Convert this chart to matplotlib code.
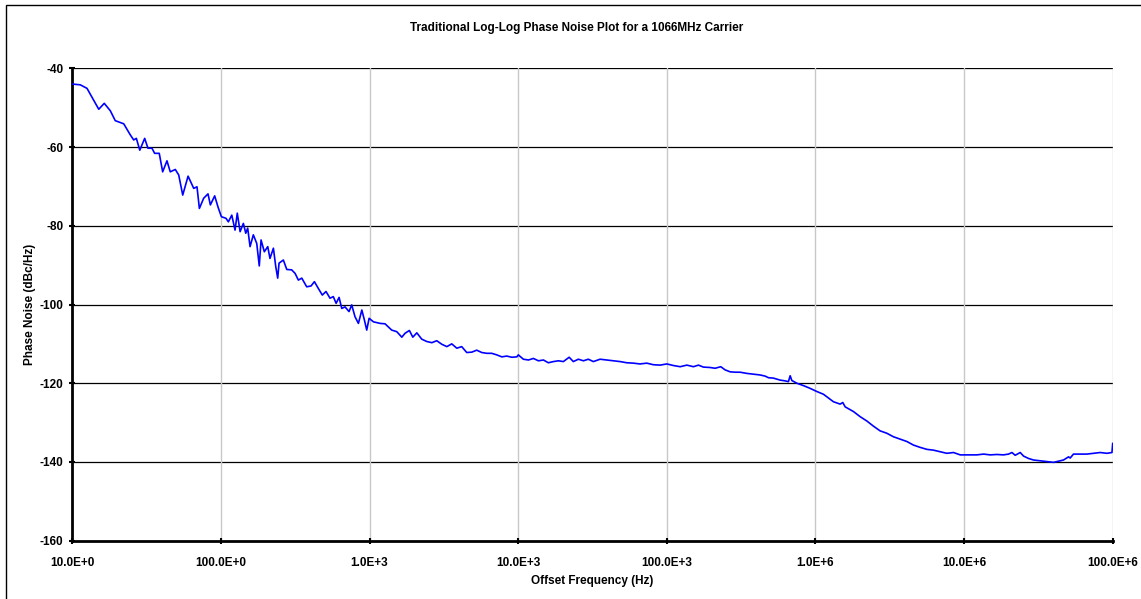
import matplotlib
matplotlib.use('Agg')
import matplotlib.pyplot as plt
from matplotlib.patches import Rectangle
import numpy as np

# offset frequency as log10(Hz), phase noise in dBc/Hz
offset_decade = [
    1.000, 1.054, 1.099, 1.144, 1.178, 1.215, 1.256, 1.289, 1.346, 1.390,
    1.413, 1.431, 1.454, 1.487, 1.509, 1.536, 1.554, 1.585, 1.608, 1.637,
    1.659, 1.693, 1.716, 1.743, 1.779, 1.817, 1.839, 1.855, 1.884, 1.913,
    1.929, 1.958, 1.980, 2.003, 2.034, 2.050, 2.073, 2.095, 2.110, 2.129,
    2.151, 2.167, 2.180, 2.196, 2.218, 2.241, 2.258, 2.270, 2.292, 2.315,
    2.330, 2.353, 2.369, 2.382, 2.391, 2.420, 2.443, 2.476, 2.499, 2.521,
    2.544, 2.577, 2.606, 2.629, 2.655, 2.682, 2.707, 2.734, 2.756, 2.775,
    2.795, 2.813, 2.835, 2.862, 2.880, 2.902, 2.925, 2.948, 2.965, 2.981,
    2.997, 3.026, 3.071, 3.104, 3.149, 3.183, 3.217, 3.239, 3.268, 3.291,
    3.318, 3.351, 3.385, 3.419, 3.452, 3.486, 3.520, 3.553, 3.587, 3.620,
    3.654, 3.688, 3.721, 3.755, 3.789, 3.822, 3.856, 3.890, 3.923, 3.957,
    3.991, 4.001, 4.035, 4.069, 4.102, 4.136, 4.170, 4.203, 4.237, 4.271,
    4.304, 4.343, 4.371, 4.405, 4.439, 4.472, 4.506, 4.551, 4.596, 4.641,
    4.686, 4.731, 4.775, 4.820, 4.865, 4.910, 4.955, 5.000, 5.044, 5.090,
    5.135, 5.179, 5.213, 5.246, 5.291, 5.325, 5.363, 5.392, 5.426, 5.460,
    5.493, 5.538, 5.583, 5.628, 5.662, 5.684, 5.717, 5.762, 5.796, 5.818,
    5.830, 5.841, 5.875, 5.919, 5.964, 6.009, 6.054, 6.121, 6.166, 6.184,
    6.200, 6.256, 6.301, 6.346, 6.390, 6.435, 6.480, 6.525, 6.570, 6.615,
    6.659, 6.705, 6.750, 6.794, 6.839, 6.884, 6.929, 6.974, 7.019, 7.086,
    7.131, 7.176, 7.221, 7.265, 7.299, 7.322, 7.344, 7.378, 7.400, 7.433,
    7.467, 7.512, 7.557, 7.602, 7.635, 7.669, 7.703, 7.714, 7.736, 7.781,
    7.826, 7.871, 7.916, 7.961, 7.995, 8.000,
]
phase_noise = [
    -44.0, -44.2, -45.1, -48.1, -50.4, -48.9, -50.8, -53.3, -54.1, -56.9,
    -58.2, -57.8, -60.8, -57.8, -60.3, -60.3, -61.6, -61.6, -66.3, -63.5,
    -66.3, -65.7, -67.1, -72.2, -67.4, -70.5, -70.1, -75.6, -73.0, -71.9,
    -74.7, -72.4, -75.2, -77.7, -78.1, -79.0, -77.3, -81.1, -76.8, -81.5,
    -79.4, -81.9, -80.6, -85.3, -82.3, -84.5, -90.2, -83.6, -86.6, -85.3,
    -88.3, -85.7, -90.4, -93.3, -89.5, -88.7, -91.1, -91.2, -92.1, -93.8,
    -93.3, -95.5, -95.3, -94.2, -95.9, -97.6, -96.7, -98.4, -98.0, -99.7,
    -98.2, -101.0, -100.6, -101.8, -100.1, -103.1, -104.8, -101.4, -103.9, -106.5,
    -103.5, -104.4, -104.8, -104.9, -106.5, -106.9, -108.3, -107.3, -106.6, -108.3,
    -107.2, -108.8, -109.4, -109.7, -109.2, -110.1, -110.7, -110.0, -111.1, -110.7,
    -112.2, -112.1, -111.6, -112.2, -112.4, -112.4, -112.8, -113.3, -113.1, -113.4,
    -113.3, -112.8, -113.9, -114.1, -113.7, -114.3, -114.1, -114.8, -114.5, -114.3,
    -114.5, -113.4, -114.5, -113.9, -114.3, -113.9, -114.5, -113.9, -114.1, -114.3,
    -114.5, -114.8, -114.9, -115.1, -114.9, -115.3, -115.4, -115.1, -115.5, -115.8,
    -115.4, -115.8, -115.4, -115.9, -116.0, -116.2, -115.8, -116.6, -117.1, -117.2,
    -117.2, -117.5, -117.7, -117.9, -118.2, -118.6, -118.7, -119.2, -119.4, -119.6,
    -118.1, -119.3, -120.0, -120.6, -121.3, -122.1, -122.8, -124.7, -125.3, -124.9,
    -126.0, -127.2, -128.5, -129.6, -130.9, -132.1, -132.7, -133.6, -134.2, -134.8,
    -135.7, -136.3, -136.8, -137.0, -137.4, -137.8, -137.6, -138.2, -138.2, -138.2,
    -138.0, -138.2, -138.1, -138.2, -138.0, -137.6, -138.3, -137.6, -138.5, -139.1,
    -139.5, -139.7, -139.9, -140.1, -139.8, -139.5, -138.7, -139.0, -138.0, -138.0,
    -138.0, -137.8, -137.6, -137.8, -137.6, -135.3,
]

x_ticks = [1e1, 1e2, 1e3, 1e4, 1e5, 1e6, 1e7, 1e8]
x_tick_labels = ['10.0E+0', '100.0E+0', '1.0E+3', '10.0E+3',
                 '100.0E+3', '1.0E+6', '10.0E+6', '100.0E+6']
y_ticks = [-160, -140, -120, -100, -80, -60, -40]

plt.rcParams['font.family'] = ['Liberation Sans', 'DejaVu Sans']
plt.rcParams['axes.unicode_minus'] = False

W, H = 1141, 599
fig = plt.figure(figsize=(W / 100, H / 100), dpi=100)

# chart border (right and bottom edges fall outside the picture)
fig.patches.append(Rectangle((6 / W, -0.01), 1.0, 1 - 5 / H + 0.01,
                             transform=fig.transFigure, fill=False,
                             edgecolor='black', linewidth=1.0))

ax = fig.add_axes([72.3 / W, 1 - 540.7 / H, (1112.7 - 72.3) / W, (540.7 - 68.3) / H])

freq = 10 ** np.asarray(offset_decade)
ax.plot(freq, phase_noise, color='#0000FF', linewidth=1.2, zorder=3)

ax.set_xscale('log')
ax.set_xlim(1e1, 1e8)
ax.set_ylim(-160, -40)
ax.set_xticks(x_ticks)
ax.set_xticklabels(x_tick_labels)
ax.xaxis.set_minor_locator(matplotlib.ticker.NullLocator())
ax.set_yticks(y_ticks)

# gridlines: black horizontals, light grey verticals
for yv in y_ticks[1:]:
    ax.axhline(yv, color='black', linewidth=0.9, zorder=1)
for xv in x_ticks[1:]:
    ax.axvline(xv, color='#c8c8c8', linewidth=1.0, zorder=1)

for side in ['top', 'right']:
    ax.spines[side].set_visible(False)
ax.spines['left'].set_linewidth(2.0)
ax.spines['bottom'].set_linewidth(2.0)

ax.tick_params(axis='both', direction='inout', length=5, width=1.5,
               labelsize=8.5)
ax.tick_params(axis='x', pad=9)
ax.tick_params(axis='y', pad=4)
for lbl in ax.get_xticklabels() + ax.get_yticklabels():
    lbl.set_fontweight('bold')

ax.set_xlabel('Offset Frequency (Hz)', fontsize=8.5, fontweight='bold', labelpad=4.5)
ax.set_ylabel('Phase Noise (dBc/Hz)', fontsize=8.5, fontweight='bold', labelpad=2.5)

fig.text(577 / W, 1 - 28 / H, 'Traditional Log-Log Phase Noise Plot for a 1066MHz Carrier',
         ha='center', va='center', fontsize=8.5, fontweight='bold')

fig.savefig('out.png', dpi=100)
